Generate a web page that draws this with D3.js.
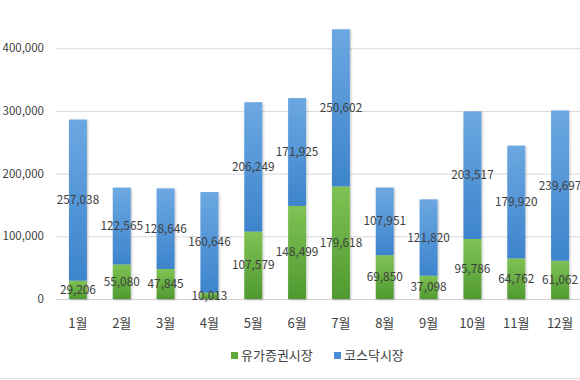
<!DOCTYPE html>
<html><head><meta charset="utf-8">
<script src="https://cdn.jsdelivr.net/npm/d3@7"></script>
<style>body{margin:0;background:#fff;}svg{display:block;}</style>
</head><body>
<svg id="c" width="580" height="380"></svg>
<script>
const months = ["1월","2월","3월","4월","5월","6월","7월","8월","9월","10월","11월","12월"];
const kospi = [29206,55080,47845,10013,107579,148499,179618,69850,37098,95786,64762,61062];
const kosdaq = [257038,122565,128646,160646,206249,171925,250602,107951,121820,203517,179920,239697];
const seriesNames = ["유가증권시장","코스닥시장"];
const yTicks = [0,100000,200000,300000,400000];

const svg = d3.select("#c");
const font = "'Noto Sans CJK KR','Malgun Gothic',sans-serif";
const m = {l:56, r:-2, t:20, b:81};
const W = 580, H = 380;
const x = d3.scaleBand().domain(months).range([m.l, W - m.r]).paddingInner(0.59).paddingOuter(0.295);
const y = d3.scaleLinear().domain([0, 445000]).range([H - m.b, m.t]);

const defs = svg.append("defs");
function grad(id, c1, c2){
  const g = defs.append("linearGradient").attr("id", id).attr("x1",0).attr("y1",0).attr("x2",0).attr("y2",1);
  g.append("stop").attr("offset","0%").attr("stop-color",c1);
  g.append("stop").attr("offset","100%").attr("stop-color",c2);
}
grad("gg","#80c255","#4f9a30");
grad("gb","#6ca8e2","#3d84cc");
const f = defs.append("filter").attr("id","sh").attr("x","-30%").attr("y","-10%").attr("width","160%").attr("height","120%");
f.append("feDropShadow").attr("dx",1).attr("dy",1).attr("stdDeviation",1.2).attr("flood-color","#000").attr("flood-opacity",0.25);

// gridlines
svg.append("g").selectAll("line").data(yTicks.slice(1)).join("line")
  .attr("x1", m.l).attr("x2", W).attr("y1", d=>y(d)+0.5).attr("y2", d=>y(d)+0.5)
  .attr("stroke","#d9d9d9").attr("stroke-width",1);
svg.append("line").attr("x1", m.l).attr("x2", W).attr("y1", y(0)+0.5).attr("y2", y(0)+0.5)
  .attr("stroke","#d0d0d0").attr("stroke-width",1);

// y axis labels
const fmt = d3.format(",");
svg.append("g").selectAll("text").data(yTicks).join("text")
  .attr("x", 44).attr("y", d=>y(d)+4).attr("text-anchor","end")
  .attr("font-family", font).attr("font-size", 11.5).attr("fill","#404040")
  .text(d=>fmt(d));

// bars
const data = months.map((mo,i)=>({mo, a:kospi[i], b:kosdaq[i]}));
const bars = svg.append("g").attr("filter","url(#sh)");
bars.selectAll("rect.g").data(data).join("rect")
  .attr("x", d=>x(d.mo)).attr("width", x.bandwidth())
  .attr("y", d=>y(d.a)).attr("height", d=>y(0)-y(d.a)).attr("fill","url(#gg)");
bars.selectAll("rect.b").data(data).join("rect")
  .attr("x", d=>x(d.mo)).attr("width", x.bandwidth())
  .attr("y", d=>y(d.a+d.b)).attr("height", d=>y(d.a)-y(d.a+d.b)).attr("fill","url(#gb)");

// value labels
const lab = svg.append("g").attr("font-family", font).attr("font-size", 11.8).attr("fill","#404040").attr("text-anchor","middle");
lab.selectAll("text.g").data(data).join("text")
  .attr("x", d=>x(d.mo)+x.bandwidth()/2).attr("y", d=>Math.min((y(0)+y(d.a))/2, y(0)-3)+4)
  .text(d=>fmt(d.a));
lab.selectAll("text.b").data(data).join("text")
  .attr("x", d=>x(d.mo)+x.bandwidth()/2).attr("y", d=>(y(d.a)+y(d.a+d.b))/2+4)
  .text(d=>fmt(d.b));

// x labels
svg.append("g").selectAll("text").data(months).join("text")
  .attr("x", d=>x(d)+x.bandwidth()/2).attr("y", 328).attr("text-anchor","middle")
  .attr("font-family", font).attr("font-size", 13).attr("fill","#404040")
  .text(d=>d);

// legend
const lg = svg.append("g").attr("font-family", font).attr("font-size", 13).attr("fill","#404040");
const lx = [231, 334];
const lc = ["#5fa83a","#4a8fd6"];
seriesNames.forEach((n,i)=>{
  lg.append("rect").attr("x", lx[i]).attr("y", 352).attr("width",7).attr("height",7).attr("fill", lc[i]);
  lg.append("text").attr("x", lx[i]+10).attr("y", 360).text(n);
});
svg.append("line").attr("x1",0).attr("x2",W).attr("y1",378.5).attr("y2",378.5).attr("stroke","#e0e0e0");
</script>
</body></html>
